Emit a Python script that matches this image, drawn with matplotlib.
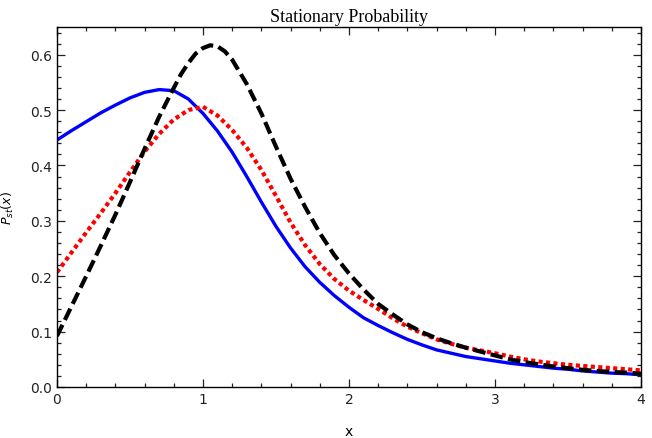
import numpy as np
import matplotlib.pyplot as plt
from matplotlib.ticker import MultipleLocator, FormatStrFormatter

# values, x step 0.1
x = [0.0, 0.1, 0.2, 0.3, 0.4, 0.5, 0.6, 0.7, 0.8, 0.9,
     1.0, 1.1, 1.2, 1.3, 1.4, 1.5, 1.6, 1.7, 1.8, 1.9,
     2.0, 2.1, 2.2, 2.3, 2.4, 2.5, 2.6, 2.7, 2.8, 2.9,
     3.0, 3.1, 3.2, 3.3, 3.4, 3.5, 3.6, 3.7, 3.8, 3.9, 4.0]

p_blue = [0.446, 0.463, 0.479, 0.495, 0.509, 0.522, 0.532, 0.537, 0.535, 0.520,
          0.494, 0.462, 0.424, 0.380, 0.334, 0.290, 0.251, 0.217, 0.189, 0.165,
          0.144, 0.125, 0.111, 0.098, 0.086, 0.076, 0.067, 0.061, 0.055, 0.051,
          0.047, 0.043, 0.040, 0.037, 0.034, 0.032, 0.029, 0.027, 0.025, 0.024, 0.022]

p_red = [0.207, 0.243, 0.279, 0.314, 0.350, 0.388, 0.425, 0.457, 0.483, 0.500,
         0.506, 0.490, 0.464, 0.432, 0.392, 0.345, 0.297, 0.256, 0.222, 0.195,
         0.174, 0.157, 0.141, 0.124, 0.109, 0.097, 0.086, 0.078, 0.071, 0.066,
         0.061, 0.055, 0.050, 0.046, 0.043, 0.040, 0.038, 0.036, 0.034, 0.032, 0.030]

# black curve read a bit finer around its peak
x_black = [0.0, 0.1, 0.2, 0.3, 0.4, 0.5, 0.6, 0.7, 0.8, 0.85, 0.9, 0.95,
           1.0, 1.05, 1.1, 1.15, 1.2, 1.3, 1.4, 1.5, 1.6, 1.7, 1.8, 1.9,
           2.0, 2.1, 2.2, 2.3, 2.4, 2.5, 2.6, 2.7, 2.8, 2.9,
           3.0, 3.1, 3.2, 3.3, 3.4, 3.5, 3.6, 3.7, 3.8, 3.9, 4.0]
p_black = [0.092, 0.146, 0.200, 0.255, 0.311, 0.370, 0.430, 0.488, 0.540, 0.565, 0.585, 0.602,
           0.612, 0.617, 0.615, 0.606, 0.591, 0.547, 0.494, 0.434, 0.376, 0.325, 0.278, 0.238,
           0.205, 0.176, 0.150, 0.131, 0.113, 0.099, 0.088, 0.079, 0.071, 0.064,
           0.057, 0.050, 0.045, 0.041, 0.037, 0.034, 0.031, 0.029, 0.027, 0.026, 0.024]

fig = plt.figure(figsize=(6.52, 4.39), dpi=100)
ax = fig.add_axes([0.0874, 0.1162, 0.8956, 0.82])

ax.plot(x, p_blue, color='#0000ff', linewidth=2.4, solid_capstyle='butt')
ax.plot(x, p_red, color='#ff0000', linewidth=3.0, dashes=(1.0, 0.8))
ax.plot(x_black, p_black, color='black', linewidth=3.0, dashes=(3.0, 1.3))

ax.set_xlim(0, 4)
ax.set_ylim(0, 0.65)
ax.xaxis.set_major_locator(MultipleLocator(1))
ax.xaxis.set_minor_locator(MultipleLocator(0.2))
ax.yaxis.set_major_locator(MultipleLocator(0.1))
ax.yaxis.set_minor_locator(MultipleLocator(0.02))
ax.yaxis.set_major_formatter(FormatStrFormatter('%.1f'))
ax.tick_params(which='both', direction='in', top=True, right=True,
               labelsize=10, colors='#222222', width=0.9)
ax.tick_params(which='major', length=6)
ax.tick_params(which='minor', length=3)
for s in ax.spines.values():
    s.set_linewidth(1.0)

ax.set_title('Stationary Probability', family='Liberation Serif', fontsize=13, pad=4)
ax.set_xlabel('x', fontsize=10, labelpad=13)
ax.set_ylabel(r'$P_{st}(x)$', fontsize=9, labelpad=10)

fig.savefig('out.png', dpi=100)
